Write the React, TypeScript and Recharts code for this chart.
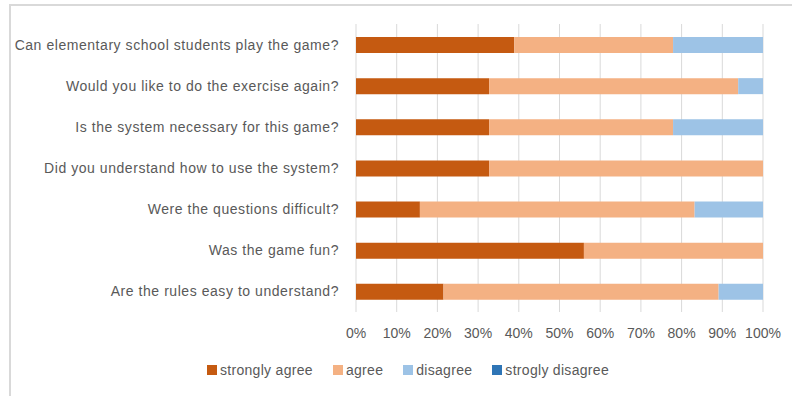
import React from "react";
import { BarChart, Bar, XAxis, YAxis, CartesianGrid, Legend } from "recharts";

const questions = [
  "Can elementary school students play the game?",
  "Would you like to do the exercise again?",
  "Is the system necessary for this game?",
  "Did you understand how to use the system?",
  "Were the questions difficult?",
  "Was the game fun?",
  "Are the rules easy to understand?",
];
const stronglyAgree = [38.9, 32.7, 32.7, 32.7, 15.7, 56.0, 21.5];
const agree = [39.0, 61.2, 45.2, 67.3, 67.5, 44.0, 67.6];
const disagree = [22.1, 6.1, 22.1, 0, 16.8, 0, 10.9];
const stronglyDisagree = [0, 0, 0, 0, 0, 0, 0];
const xTicks = [0, 10, 20, 30, 40, 50, 60, 70, 80, 90, 100];

const seriesNames = ["strongly agree", "agree", "disagree", "strogly disagree"];
const seriesColors = ["#C55A11", "#F4B183", "#9DC3E6", "#2E75B6"];

const data = questions.map((q, i) => ({
  question: q,
  sa: stronglyAgree[i],
  a: agree[i],
  d: disagree[i],
  sd: stronglyDisagree[i],
}));

const FONT = "'Liberation Sans', Arial, sans-serif";
const TEXT = "#595959";

const LegendContent = (props: any) => {
  const payload = [...(props.payload || [])].sort(
    (a: any, b: any) => seriesNames.indexOf(a.value) - seriesNames.indexOf(b.value)
  );
  return (
    <div style={{ display: "flex", justifyContent: "center", fontFamily: FONT, fontSize: 14, color: TEXT, letterSpacing: 0.3 }}>
      {payload.map((p: any, i: number) => (
        <div key={i} style={{ display: "flex", alignItems: "center", marginRight: i < payload.length - 1 ? 20 : 0 }}>
          <span style={{ display: "inline-block", width: 10, height: 10, background: p.color, marginRight: 3 }} />
          <span>{p.value}</span>
        </div>
      ))}
    </div>
  );
};

export default function App() {
  return (
    <div style={{ position: "absolute", left: 0, top: 0, width: 792, height: 396, background: "#fff", overflow: "hidden" }}>
      <div style={{ position: "absolute", left: 9, top: 4, width: 800, height: 400, border: "2px solid #d9d9d9", boxSizing: "border-box" }} />
      <div style={{ position: "absolute", left: 0, top: 0 }}>
        <BarChart
          width={792}
          height={396}
          layout="vertical"
          data={data}
          margin={{ top: 24, right: 29, left: 10, bottom: 34 }}
          barSize={16}
        >
          <CartesianGrid horizontal={false} stroke="#d9d9d9" strokeWidth={1} />
          <XAxis
            type="number"
            domain={[0, 100]}
            ticks={xTicks}
            tickFormatter={(v: number) => `${v}%`}
            axisLine={false}
            tickLine={false}
            tickSize={0}
            tickMargin={16}
            height={30}
            interval={0}
            tick={{ fill: TEXT, fontSize: 14, fontFamily: FONT }}
          />
          <YAxis
            type="category"
            dataKey="question"
            width={346}
            axisLine={false}
            tickLine={false}
            tickSize={0}
            tickMargin={17}
            interval={0}
            tick={{ fill: TEXT, fontSize: 14, fontFamily: FONT, letterSpacing: 0.55 }}
          />
          <Legend content={<LegendContent />} wrapperStyle={{ top: 362, bottom: "auto", left: 12, width: 792 }} height={20} />
          <Bar dataKey="sa" name={seriesNames[0]} stackId="s" fill={seriesColors[0]} isAnimationActive={false} />
          <Bar dataKey="a" name={seriesNames[1]} stackId="s" fill={seriesColors[1]} isAnimationActive={false} />
          <Bar dataKey="d" name={seriesNames[2]} stackId="s" fill={seriesColors[2]} isAnimationActive={false} />
          <Bar dataKey="sd" name={seriesNames[3]} stackId="s" fill={seriesColors[3]} isAnimationActive={false} />
        </BarChart>
      </div>
    </div>
  );
}
